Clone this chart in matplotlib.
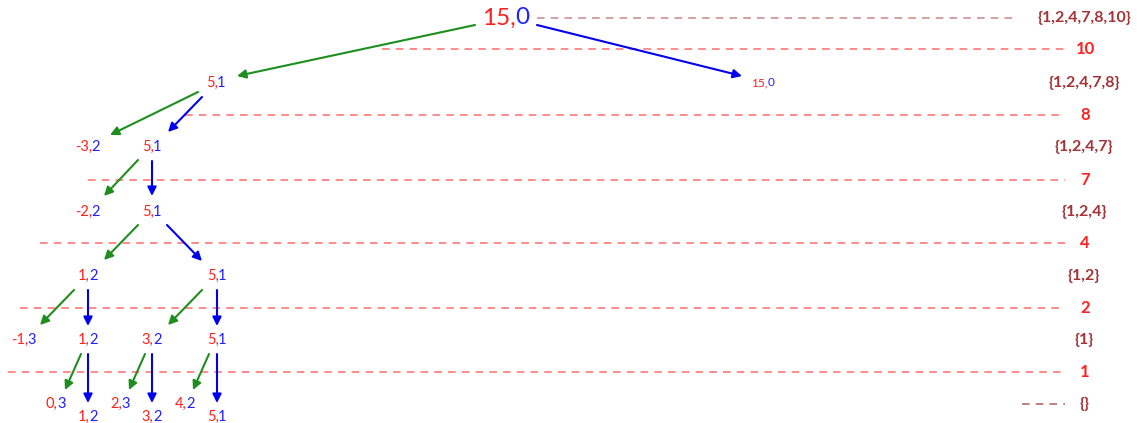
import matplotlib.pyplot as plt

plt.rcParams['font.family'] = ['Lato', 'DejaVu Sans']

# nodes: red part, blue part, x, y, font size
node_red = ['15,', '5,', '15,', '-3,', '5,', '-2,', '5,', '1,', '5,',
            '-1,', '1,', '3,', '5,', '0,', '1,', '2,', '3,', '4,', '5,']
node_blue = ['0', '1', '0', '2', '1', '2', '1', '2', '1',
             '3', '2', '2', '1', '3', '2', '3', '2', '2', '1']
node_x = [506, 216, 763, 88, 152, 88, 152, 88, 217,
          24, 88, 152, 217, 56, 88, 120, 152, 185, 217]
node_y = [18, 83, 83, 147, 147, 212, 212, 276, 276,
          340, 340, 340, 340, 404, 417, 404, 417, 404, 417]
node_size = [17.5, 10.5, 8.5] + [10.5] * 16

# arrows: start and end, green = left branch, blue = right branch
green_from = [(475, 25), (198, 92), (138, 160), (138, 225), (74, 290),
              (202, 290), (81, 354), (145, 354), (209, 354)]
green_to = [(237, 76), (110, 135), (104, 196), (104, 260), (40, 325),
            (168, 325), (65, 390), (129, 390), (193, 390)]
blue_from = [(537, 25), (202, 97), (152, 161), (167, 225), (88, 290),
             (217, 290), (88, 354), (152, 354), (217, 354)]
blue_to = [(742, 76), (168, 132), (152, 196), (202, 261), (88, 326),
           (217, 326), (88, 403), (152, 403), (217, 403)]

# threshold lines with labels on the right
line_y = [49, 115, 180, 243, 308, 372]
line_x0 = [382, 185, 88, 40, 20, 8]
line_labels = ['10', '8', '7', '4', '2', '1']

# set labels
set_y = [18, 83, 147, 212, 276, 340, 404]
set_labels = ['{1,2,4,7,8,10}', '{1,2,4,7,8}', '{1,2,4,7}', '{1,2,4}',
              '{1,2}', '{1}', '{}']

fig = plt.figure(figsize=(11.37, 4.23), dpi=100)
ax = fig.add_axes([0, 0, 1, 1])
ax.set_xlim(0, 1137)
ax.set_ylim(423, 0)
ax.axis('off')

red = '#ff2020'
blue = '#2020ff'
brown = '#a33538'
dash = (0, (5, 4))

for y, x0, lab in zip(line_y, line_x0, line_labels):
    ax.plot([x0, 1065], [y, y], color='#ff5555', lw=1.1, ls=dash, alpha=0.85)
    ax.text(1085, y, lab, color=red, fontsize=12, fontweight='bold',
            ha='center', va='center')

ax.plot([537, 1015], [18, 18], color='#c88888', lw=1.1, ls=dash)
ax.plot([1022, 1065], [404, 404], color='#a86060', lw=1.1, ls=dash)

for y, lab in zip(set_y, set_labels):
    ax.text(1084, y, lab, color=brown, fontsize=11.5, fontweight='bold',
            ha='center', va='center')

for a, b in zip(green_from, green_to):
    ax.annotate('', xy=b, xytext=a,
                arrowprops=dict(arrowstyle='-|>', color='#1e8f1e', lw=1.5,
                                mutation_scale=13, shrinkA=0, shrinkB=0))
for a, b in zip(blue_from, blue_to):
    ax.annotate('', xy=b, xytext=a,
                arrowprops=dict(arrowstyle='-|>', color='#0000ee', lw=1.5,
                                mutation_scale=13, shrinkA=0, shrinkB=0))

renderer = fig.canvas.get_renderer()
inv = ax.transData.inverted()
for r, b, x, y, s in zip(node_red, node_blue, node_x, node_y, node_size):
    full = ax.text(x, y, r + b, fontsize=s, ha='center', va='center')
    bb = full.get_window_extent(renderer)
    left = inv.transform((bb.x0, 0))[0]
    full.remove()
    t = ax.text(left, y, r, fontsize=s, color=red, ha='left', va='center')
    ax.annotate(b, xy=(1, 0), xycoords=t, xytext=(-s * 0.04, 0),
                textcoords='offset points', fontsize=s, color=blue,
                ha='left', va='bottom')

fig.savefig('out.png', dpi=100)
